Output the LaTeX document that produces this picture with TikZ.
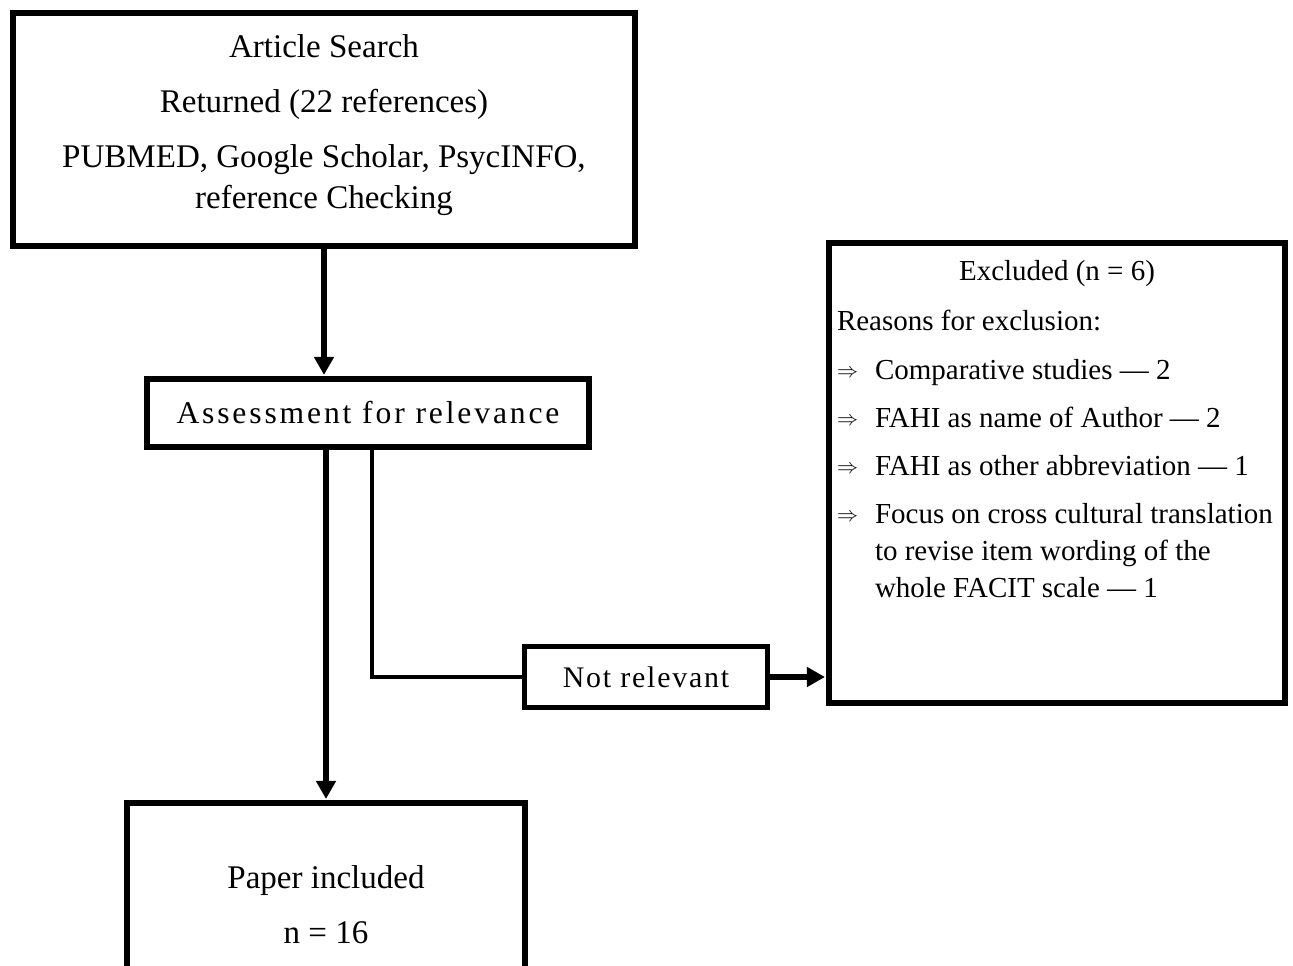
\documentclass[tikz,border=0pt]{standalone}
\usepackage{fontspec}
\setmainfont{Liberation Serif}
\newfontfamily\widefont[LetterSpace=9]{Liberation Serif}
\newfontfamily\midfont[LetterSpace=6]{Liberation Serif}
\usetikzlibrary{positioning,arrows.meta}
\newcommand{\exitem}{\hspace*{0.16cm}\makebox[0.76cm][l]{\raisebox{0.8pt}{\fontsize{12}{14}\selectfont$\Rightarrow$}}}
\newcommand{\exindent}{\hspace*{0.92cm}}

\begin{document}
\begin{tikzpicture}[
  box/.style    = {draw, line width=3.4pt, inner sep=0pt, align=center},
  arrow/.style  = {-{Triangle[length=0.36cm,width=0.38cm]}, line width=2.85pt,
                   shorten >=0.6pt},
  branch/.style = {line width=1.8pt}
]
  \useasboundingbox (0,0) rectangle (25.86,-19.32);

  % Main column
  \node[box, minimum width=12.44cm, minimum height=4.66cm,
        font=\fontsize{18.8}{23.3}\selectfont] (search) at (6.48,-2.59)
        {Article Search\\[8pt] Returned (22 references)\\[8pt]
         PUBMED, Google Scholar, PsycINFO,\\ reference Checking\\[-14pt]\mbox{}};
  \node[box, minimum width=8.84cm, minimum height=1.36cm,
        font=\fontsize{18}{21}\widefont] (assess) at (7.36,-8.26)
        {Assessment for relevance};
  \node[box, minimum width=7.96cm, minimum height=4.06cm,
        font=\fontsize{18.8}{23.3}\selectfont] (paper) at (6.52,-18.09)
        {Paper included\\[8pt] n = 16};

  % Side branch
  \node[box, minimum width=4.86cm, minimum height=1.22cm,
        font=\fontsize{17}{20}\midfont] (notrel) at (12.92,-13.54) {Not relevant};
  \node[box] (excl) at (21.14,-9.46)
        {\begin{minipage}[t][9.2cm][t]{9.12cm}
         \fontsize{16.5}{21}\selectfont
         \vspace*{10pt}%
         \makebox[\linewidth]{Excluded (n = 6)}\\[7.5pt]
         \hspace*{0.16cm}Reasons for exclusion:\\[6.5pt]
         \exitem Comparative studies — 2\\[6.3pt]
         \exitem FAHI as name of Author — 2\\[6.3pt]
         \exitem FAHI as other abbreviation — 1\\[6.5pt]
         \exitem Focus on cross cultural translation\\
         \exindent to revise item wording of the\\
         \exindent whole FACIT scale — 1
         \end{minipage}};

  % Connectors
  \draw[arrow] (search.south) -- (search.south |- assess.north);
  \draw[arrow] (paper.north |- assess.south) -- (paper.north);
  \draw[branch] ([xshift=0.8mm]assess.south) |- (notrel.west);
  \draw[arrow, line width=3.6pt] (notrel.east) -- (notrel.east -| excl.west);

\end{tikzpicture}
\end{document}
